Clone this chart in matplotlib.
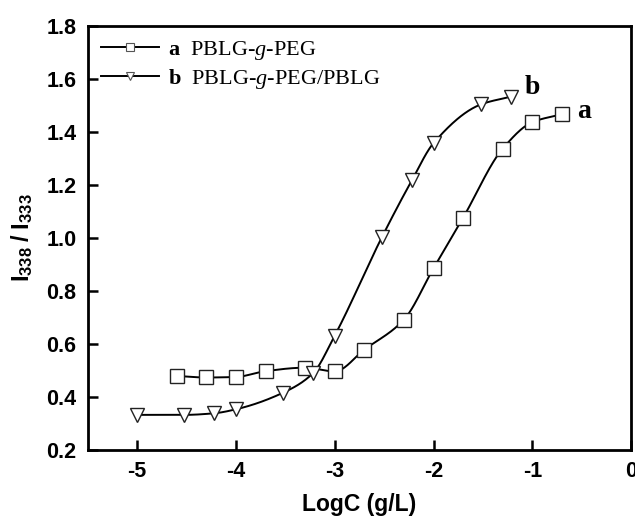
import numpy as np
import matplotlib
matplotlib.use('Agg')
import matplotlib.pyplot as plt

plt.rcParams['mathtext.fontset'] = 'custom'
plt.rcParams['mathtext.rm'] = 'Liberation Serif'
plt.rcParams['mathtext.it'] = 'Liberation Serif:italic'
plt.rcParams['mathtext.bf'] = 'Liberation Serif:bold'
plt.rcParams['mathtext.sf'] = 'Liberation Sans:bold'

# series a: PBLG-g-PEG
xa = [-4.6, -4.3, -4.0, -3.7, -3.3, -3.0, -2.7, -2.3, -2.0, -1.7, -1.3, -1.0, -0.7]
ya = [0.480, 0.474, 0.476, 0.498, 0.511, 0.497, 0.579, 0.692, 0.886, 1.077, 1.337, 1.437, 1.467]
# series b: PBLG-g-PEG/PBLG
xb = [-5.0, -4.52, -4.22, -4.0, -3.52, -3.22, -3.0, -2.52, -2.22, -2.0, -1.52, -1.22]
yb = [0.333, 0.333, 0.339, 0.354, 0.417, 0.490, 0.632, 1.005, 1.217, 1.358, 1.504, 1.533]

labels = [r'$\mathbf{a}$  PBLG-$\mathit{g}$-PEG', r'$\mathbf{b}$  PBLG-$\mathit{g}$-PEG/PBLG']


def pchip(x, y, xn):
    # monotone cubic through the measured points, only for drawing the line
    x = np.asarray(x, float); y = np.asarray(y, float)
    h = np.diff(x); d = np.diff(y) / h
    m = np.zeros_like(y)
    for k in range(1, len(x) - 1):
        if d[k-1] * d[k] > 0:
            w1 = 2*h[k] + h[k-1]; w2 = h[k] + 2*h[k-1]
            m[k] = (w1 + w2) / (w1/d[k-1] + w2/d[k])
    m[0] = d[0]; m[-1] = d[-1]
    i = np.clip(np.searchsorted(x, xn) - 1, 0, len(x) - 2)
    t = (xn - x[i]) / h[i]
    h00 = 2*t**3 - 3*t**2 + 1; h10 = t**3 - 2*t**2 + t
    h01 = -2*t**3 + 3*t**2; h11 = t**3 - t**2
    return h00*y[i] + h10*h[i]*m[i] + h01*y[i+1] + h11*h[i]*m[i+1]


fig = plt.figure(figsize=(6.35, 5.18), dpi=100)
ax = fig.add_axes([0.138, 0.131, 0.856, 0.819])

for xs, ys, mk, lab in [(xa, ya, 's', labels[0]), (xb, yb, 'v', labels[1])]:
    xs_fine = np.linspace(xs[0], xs[-1], 400)
    ax.plot(xs_fine, pchip(xs, ys, xs_fine), color='black', lw=1.4, zorder=2)
    ax.plot(xs, ys, ls='none', marker=mk, ms=10.5, mfc='white', mec='#222222',
            mew=1.0, zorder=3)
    ax.plot([], [], color='black', lw=1.4, marker=mk, ms=6, mfc='white',
            mec='#555555', mew=0.8, label=lab)

ax.text(-1.0, 1.566, 'b', family='Liberation Serif', weight='bold', fontsize=20,
        ha='center', va='center')
ax.text(-0.48, 1.478, 'a', family='Liberation Serif', weight='bold', fontsize=20,
        ha='center', va='center')

ax.set_xlim(-5.5, 0)
ax.set_ylim(0.2, 1.8)
ax.set_xticks([-5, -4, -3, -2, -1, 0])
ax.set_xticklabels(['-5', '-4', '-3', '-2', '-1', '0'])
ax.set_yticks(np.arange(0.2, 1.81, 0.2))
ax.set_yticklabels(['%.1f' % v for v in np.arange(0.2, 1.81, 0.2)])
ax.tick_params(direction='in', length=7, width=1.8, labelsize=15.5, pad=8)
for t in ax.get_xticklabels() + ax.get_yticklabels():
    t.set_family('Liberation Sans')
    t.set_weight('bold')
for s in ax.spines.values():
    s.set_linewidth(2.0)

ax.set_xlabel('LogC (g/L)', family='Liberation Sans', weight='bold', fontsize=16.5, labelpad=8)
ax.set_ylabel(r'$\mathsf{I_{338}\ /\ I_{333}}$', fontsize=17, labelpad=8)

ax.legend(loc='upper left', frameon=False, prop={'family': 'Liberation Serif', 'size': 16},
          handlelength=2.6, handletextpad=0.4, borderaxespad=0.2, labelspacing=0.2)

fig.savefig('out.png', dpi=100)
